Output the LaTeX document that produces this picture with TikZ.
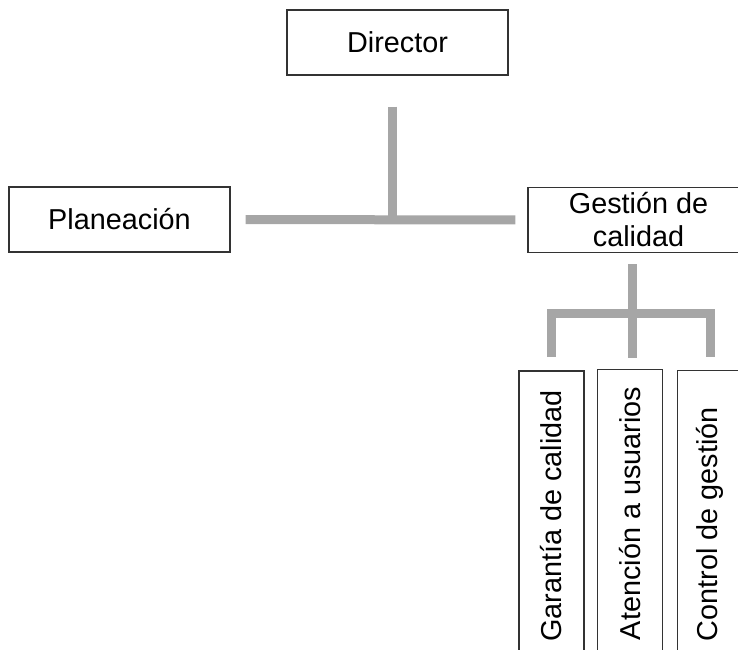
\documentclass[tikz,border=0pt]{standalone}
\usepackage{fontspec}
\setmainfont{Liberation Sans}
\usetikzlibrary{positioning}

\tikzset{
  caja/.style={draw=black!80,line width=0.6pt,inner sep=0pt,minimum width=110.5pt,minimum height=32.5pt,
    align=center,font=\fontsize{14.4}{16.5}\selectfont},
  cajav/.style={draw=black!80,line width=0.6pt,rotate=90,inner ysep=0pt,inner xsep=10pt,
    minimum width=145.5pt,minimum height=32.5pt,font=\fontsize{14.4}{16.5}\selectfont},
  rama/.style={draw=gray!70,line width=4.5pt}
}
\def\vtexto#1{\makebox[125pt][l]{#1}}

\begin{document}
\begin{tikzpicture}[x=0.5pt,y=-0.5pt]
    \useasboundingbox (0,0) rectangle (738,649);
    \clip (0,0) rectangle (738,649);
    % Cajas
    \node[caja] (dir) at (397.5,42.5) {Director};
    \node[caja] (plan) at (119.5,219.5) {Planeación};
    \node[caja] (gest) at (638.5,220) {Gestión de\\calidad};
    \node[cajav] (g1) at (551.5,516.5) {\vtexto{Garantía de calidad}};
    \node[cajav] (g2) at (630,515) {\vtexto{Atención a usuarios}};
    \node[cajav] (g3) at (710,516) {\vtexto{Control de gestión}};

    % Ramas
    \draw[rama,shorten <=7.5pt,shorten >=6pt] (plan.east) -- (gest.west);
    \draw[rama] (dir.south) ++(-5.5,31) -- ++(0,114);
    \draw[rama] (gest.south) ++(-6.5,11) -- ++(0,94);
    \coordinate (cruce) at (632,313);
    \coordinate (pie) at (0,357);
    \draw[rama] (g1 |- pie) -- (g1 |- cruce) -- (g3 |- cruce) -- (g3 |- pie);
\end{tikzpicture}
\end{document}
